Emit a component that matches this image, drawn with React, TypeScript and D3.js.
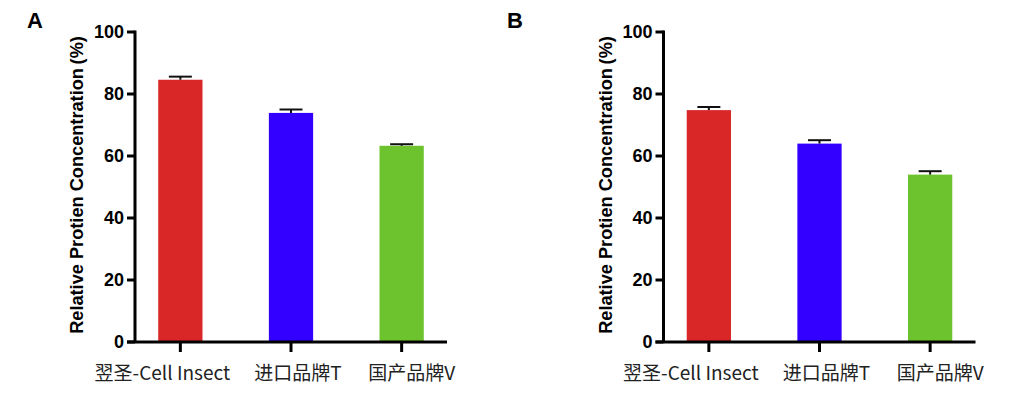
import * as d3 from "d3";
import React, { useEffect, useRef } from "react";

const categories = ["翌圣-Cell Insect", "进口品牌T", "国产品牌V"];
const valuesA = [84.6, 73.9, 63.3];
const errorsA = [1.0, 1.1, 0.5];
const valuesB = [74.8, 64.0, 54.0];
const errorsB = [1.0, 1.1, 1.1];
const yTicks = [0, 20, 40, 60, 80, 100];
const barColors = ["#D92627", "#3300FF", "#6CC32E"];

// small shifts so category labels sit where the original put them
const labelShift = [-18, 7, 10];

function App() {
  const ref = useRef<SVGSVGElement>(null);

  useEffect(() => {
    const svg = d3.select(ref.current);
    svg.selectAll("*").remove();

    const panels = [
      { letter: "A", left: 135, values: valuesA, errors: errorsA, letterX: 27 },
      { letter: "B", left: 663.5, values: valuesB, errors: errorsB, letterX: 507 },
    ];

    var top = 32,
      bottom = 342,
      width = 312;

    var y = d3.scaleLinear().domain([0, 100]).range([bottom, top]);

    panels.forEach((p) => {
      var x = d3
        .scaleBand()
        .domain(categories)
        .range([0, width])
        .paddingInner(0.6)
        .paddingOuter(0.21);

      svg
        .append("text")
        .attr("x", p.letterX)
        .attr("y", 28)
        .attr("font-family", "Liberation Sans, Arial, sans-serif")
        .attr("font-weight", "bold")
        .attr("font-size", 22)
        .attr("fill", "#000")
        .text(p.letter);

      var g = svg.append("g").attr("transform", "translate(" + p.left + ",0)");

      // bars
      g.selectAll(".bar")
        .data(p.values)
        .enter()
        .append("rect")
        .attr("x", (d, i) => x(categories[i])!)
        .attr("y", (d) => y(d))
        .attr("width", x.bandwidth())
        .attr("height", (d) => bottom - y(d))
        .attr("fill", (d, i) => barColors[i]);

      // error bars
      g.selectAll(".err")
        .data(p.values)
        .enter()
        .append("line")
        .attr("x1", (d, i) => x(categories[i])! + x.bandwidth() / 2)
        .attr("x2", (d, i) => x(categories[i])! + x.bandwidth() / 2)
        .attr("y1", (d) => y(d))
        .attr("y2", (d, i) => y(d + p.errors[i]))
        .attr("stroke", "#111")
        .attr("stroke-width", 2);

      g.selectAll(".cap")
        .data(p.values)
        .enter()
        .append("line")
        .attr("x1", (d, i) => x(categories[i])! + x.bandwidth() / 2 - 11.5)
        .attr("x2", (d, i) => x(categories[i])! + x.bandwidth() / 2 + 11.5)
        .attr("y1", (d, i) => y(d + p.errors[i]))
        .attr("y2", (d, i) => y(d + p.errors[i]))
        .attr("stroke", "#111")
        .attr("stroke-width", 2);

      // y axis
      g.append("line")
        .attr("x1", 0)
        .attr("x2", 0)
        .attr("y1", y(100) - 1.5)
        .attr("y2", bottom)
        .attr("stroke", "#000")
        .attr("stroke-width", 3);

      g.selectAll(".ytick")
        .data(yTicks)
        .enter()
        .append("line")
        .attr("x1", -8)
        .attr("x2", 0)
        .attr("y1", (d) => y(d))
        .attr("y2", (d) => y(d))
        .attr("stroke", "#000")
        .attr("stroke-width", 3);

      g.selectAll(".ylab")
        .data(yTicks)
        .enter()
        .append("text")
        .attr("x", -11)
        .attr("y", (d) => y(d))
        .attr("dy", "0.36em")
        .attr("text-anchor", "end")
        .attr("font-family", "Liberation Sans, Arial, sans-serif")
        .attr("font-weight", "bold")
        .attr("font-size", 18)
        .attr("fill", "#000")
        .text((d) => d);

      // x axis
      g.append("line")
        .attr("x1", -8)
        .attr("x2", width)
        .attr("y1", bottom)
        .attr("y2", bottom)
        .attr("stroke", "#000")
        .attr("stroke-width", 3);

      g.selectAll(".xtick")
        .data(categories)
        .enter()
        .append("line")
        .attr("x1", (d) => x(d)! + x.bandwidth() / 2)
        .attr("x2", (d) => x(d)! + x.bandwidth() / 2)
        .attr("y1", bottom)
        .attr("y2", bottom + 10)
        .attr("stroke", "#000")
        .attr("stroke-width", 3);

      g.selectAll(".xlab")
        .data(categories)
        .enter()
        .append("text")
        .attr("x", (d, i) => x(d)! + x.bandwidth() / 2 + labelShift[i])
        .attr("y", 380)
        .attr("text-anchor", "middle")
        .attr("font-family", "Noto Sans CJK SC, sans-serif")
        .attr("font-size", 19)
        .attr("fill", "#222")
        .text((d) => d);

      // y axis title
      g.append("text")
        .attr("transform", "translate(-52," + (top + bottom - 4) / 2 + ") rotate(-90)")
        .attr("text-anchor", "middle")
        .attr("font-family", "Liberation Sans, Arial, sans-serif")
        .attr("font-weight", "bold")
        .attr("font-size", 18.2)
        .attr("fill", "#000")
        .text("Relative Protien Concentration\u2009(%)");
    });
  }, []);

  return (
    <svg
      ref={ref}
      width={1026}
      height={399}
      style={{ position: "absolute", left: 0, top: 0, background: "#fff" }}
    />
  );
}

export default App;
